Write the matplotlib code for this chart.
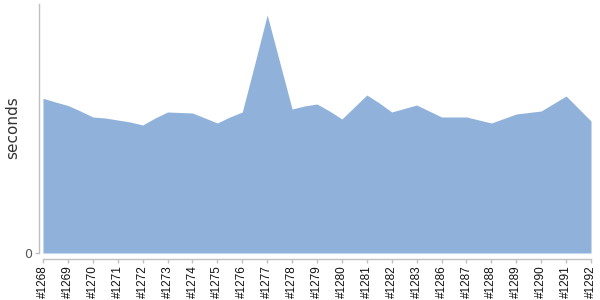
import matplotlib
matplotlib.use("Agg")
import matplotlib.pyplot as plt

# builds: labels shown on every other sample
build_labels = ["#1268", "#1269", "#1270", "#1271", "#1272", "#1273", "#1274",
                "#1275", "#1276", "#1277", "#1278", "#1279", "#1280", "#1281",
                "#1282", "#1283", "#1286", "#1287", "#1288", "#1289", "#1290",
                "#1291", "#1292"]

seconds = [154.7, 151, 147.5, 142, 136, 135, 133, 131, 128, 135,
           141, 140.5, 140, 135, 130, 136, 141, 189, 238, 191,
           144, 147, 149, 142, 134, 146, 158, 150, 141, 144.5,
           148, 142, 136, 136, 136, 133, 130, 134.5, 139, 140.5,
           142, 149.5, 157, 144.5, 132]

AREA = "#8fb1da"
SPINE = "#c0c0c0"

fig = plt.figure(figsize=(6, 3), dpi=100)
ax = fig.add_axes([43 / 600, 47 / 300, 548 / 600, 249 / 300])

x = list(range(len(seconds)))
ax.fill_between(x, seconds, 0, color=AREA, linewidth=0)

ax.set_xlim(0, len(seconds) - 1)
ax.set_ylim(0, 249)

ax.spines["top"].set_visible(False)
ax.spines["right"].set_visible(False)
ax.spines["left"].set_position(("outward", 3))
ax.spines["bottom"].set_position(("outward", 4))
for s in ("left", "bottom"):
    ax.spines[s].set_color(SPINE)
    ax.spines[s].set_linewidth(1)

ax.set_xticks(x[::2])
ax.set_xticklabels(build_labels, rotation=90, fontsize=8.5,
                   family="Liberation Sans", color="#111111")
ax.set_yticks([0])
ax.set_yticklabels(["0"], fontsize=9, color="#555555", family="DejaVu Sans")
ax.tick_params(axis="both", length=3, width=1, color=SPINE, pad=2)

# y label placed by hand, as in the reference
fig.text(13 / 600, 1 - 128 / 300, "seconds", rotation=90, ha="center",
         va="center", fontsize=11, color="#333333", family="DejaVu Sans")

fig.savefig("out.png", dpi=100)
